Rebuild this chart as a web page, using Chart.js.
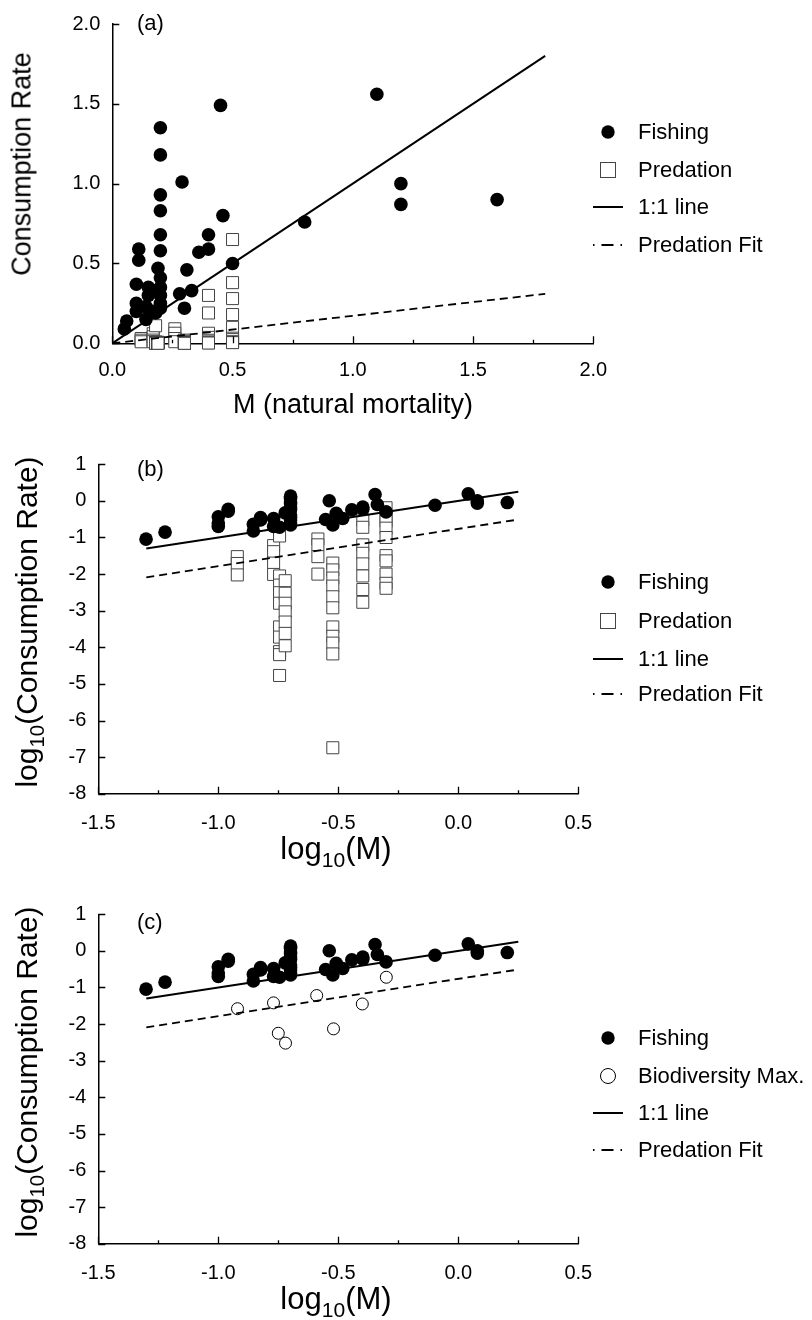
<!DOCTYPE html>
<html lang="en">
<head>
<meta charset="utf-8">
<title>Consumption rate vs natural mortality</title>
<script src="https://cdn.jsdelivr.net/npm/chart.js@4.4.1/dist/chart.umd.min.js"></script>
<style>
  html, body { margin: 0; padding: 0; background: #fff; }
  #fig { position: relative; width: 812px; height: 1320px; overflow: hidden;
         font-family: "Liberation Sans", Arial, sans-serif; color: #000; }
  #fig canvas { position: absolute; left: 0; }
  .txt { position: absolute; white-space: nowrap; line-height: 1; }
  .ytitle { transform: translate(-50%, -50%) rotate(-90deg); }
  .xtitle { transform: translate(-50%, -50%); }
  .tag { transform: translateY(-50%); font-size: 22px; }
  .sub { position: relative; top: 0.36em; font-size: 0.68em; }
  .leg { transform: translateY(-50%); }
  .mk { position: absolute; }
</style>
</head>
<body>
<div id="fig">
  <canvas id="chartA" width="812" height="420" style="top:0;width:812px;height:420px"></canvas>
  <canvas id="chartB" width="812" height="440" style="top:430px;width:812px;height:440px"></canvas>
  <canvas id="chartC" width="812" height="440" style="top:880px;width:812px;height:440px"></canvas>

  <div class="txt ytitle" style="left:22px;top:164px;font-size:27px">Consumption Rate</div>
  <div class="txt xtitle" style="left:353px;top:404px;font-size:27px">M (natural mortality)</div>
  <div class="txt tag" style="left:137px;top:23px">(a)</div>

  <div class="txt ytitle" style="left:27px;top:622px;font-size:30px">log<span class="sub">10</span>(Consumption Rate)</div>
  <div class="txt xtitle" style="left:336px;top:848px;font-size:31px">log<span class="sub">10</span>(M)</div>
  <div class="txt tag" style="left:137px;top:469px">(b)</div>

  <div class="txt ytitle" style="left:27px;top:1072px;font-size:30px">log<span class="sub">10</span>(Consumption Rate)</div>
  <div class="txt xtitle" style="left:336px;top:1298px;font-size:31px">log<span class="sub">10</span>(M)</div>
  <div class="txt tag" style="left:137px;top:922px">(c)</div>
</div>

<script>
// fishing: natural mortality M and consumption rate
const fishM = [0.05, 0.06, 0.10, 0.10, 0.10, 0.11, 0.11, 0.14, 0.14, 0.15, 0.15, 0.17, 0.17, 0.18, 0.19,
               0.20, 0.20, 0.20, 0.20, 0.20, 0.20, 0.20, 0.20, 0.20, 0.20, 0.20,
               0.28, 0.29, 0.30, 0.31, 0.33, 0.36, 0.40, 0.40, 0.45, 0.46, 0.50, 0.80, 1.10, 1.20, 1.20, 1.60];
const fishC = [0.09, 0.14, 0.37, 0.25, 0.20, 0.59, 0.52, 0.15, 0.23, 0.35, 0.30, 0.20, 0.33, 0.19, 0.47,
               1.35, 1.18, 0.93, 0.83, 0.68, 0.58, 0.41, 0.35, 0.30, 0.25, 0.22,
               0.31, 1.01, 0.22, 0.46, 0.33, 0.57, 0.59, 0.68, 1.49, 0.80, 0.50, 0.76, 1.56, 1.00, 0.87, 0.90];

// predation estimates
const predM = [0.12, 0.12, 0.12,
               0.17, 0.17, 0.17, 0.17,
               0.18, 0.18, 0.18, 0.18, 0.18, 0.18, 0.18, 0.18, 0.18, 0.18,
               0.19, 0.19, 0.19, 0.19, 0.19, 0.19, 0.19,
               0.26, 0.26, 0.26, 0.26,
               0.30, 0.30, 0.30, 0.30, 0.30, 0.30, 0.30, 0.30, 0.30, 0.30, 0.30,
               0.40, 0.40, 0.40, 0.40, 0.40, 0.40, 0.40, 0.40,
               0.50, 0.50, 0.50, 0.50, 0.50, 0.50, 0.50, 0.50, 0.50, 0.50];
const predC = [0.030, 0.0195, 0.0095,
               0.060, 0.041, 0.020, 0.0098,
               0.11, 0.0089, 0.0050, 0.0031, 0.0016, 0.00036, 0.00019, 0.000076, 0.000063, 0.000017,
               0.0066, 0.0030, 0.0016, 0.00093, 0.00049, 0.00024, 0.00011,
               0.091, 0.063, 0.030, 0.010,
               0.020, 0.013, 0.0078, 0.0047, 0.0024, 0.0012, 0.00036, 0.00020, 0.00013, 0.000066, 0.00000018,
               0.30, 0.19, 0.063, 0.037, 0.019, 0.0089, 0.0038, 0.0017,
               0.65, 0.38, 0.28, 0.18, 0.10, 0.032, 0.023, 0.010, 0.0056, 0.0041];

// biodiversity maximum (log10 units)
const bioLogM = [-0.92, -0.77, -0.75, -0.72, -0.59, -0.52, -0.40, -0.30];
const bioLogC = [-1.58, -1.42, -2.25, -2.52, -1.22, -2.13, -1.45, -0.72];

// reference lines
const lineM = [0, 1.8];
const oneC = [0, 1.8];
const fitC = [0, 0.31];
const logLineM = [-1.30, 0.25];
const logOneC = [-1.30, 0.25];
const logFitC = [-2.09, -0.51];

// axis ticks
const linTicks = { min: 0, max: 2, step: 0.5 };
const logXTicks = { min: -1.5, max: 0.5, step: 0.5 };
const logYTicks = { min: -8, max: 1, step: 1 };

const FONT = '"Liberation Sans", Arial, sans-serif';
const pts = (xs, ys) => xs.map((v, i) => ({ x: v, y: ys[i] }));
const lg = arr => arr.map(v => Math.log10(v));
const fmt1 = v => (Math.abs(v) < 1e-9 ? 0 : v).toFixed(1);
const fmt0 = v => String(Math.round(v));

// tick marks point into the plot; minor marks halfway on x
const innerTicks = {
  id: 'innerTicks',
  afterDraw(chart) {
    const { ctx, chartArea: a, scales: { x, y } } = chart;
    ctx.save();
    ctx.strokeStyle = '#000';
    ctx.lineWidth = 1.3;
    ctx.beginPath();
    const xv = x.ticks.map(t => t.value);
    xv.forEach((v, i) => {
      const px = Math.round(x.getPixelForValue(v)) + 0.5;
      ctx.moveTo(px, a.bottom);
      ctx.lineTo(px, a.bottom - 7);
      if (i < xv.length - 1) {
        const mx = Math.round(x.getPixelForValue((v + xv[i + 1]) / 2)) + 0.5;
        ctx.moveTo(mx, a.bottom);
        ctx.lineTo(mx, a.bottom - 3.5);
      }
    });
    y.ticks.forEach(t => {
      const py = Math.round(y.getPixelForValue(t.value)) + 0.5;
      ctx.moveTo(a.left, py);
      ctx.lineTo(a.left + 7, py);
    });
    ctx.stroke();
    ctx.restore();
  }
};

function axis(t, fmt, pad, fit) {
  return {
    type: 'linear', min: t.min, max: t.max,
    grid: { display: false, drawTicks: false },
    border: { display: true, color: '#000', width: 1.5 },
    ticks: { stepSize: t.step, padding: pad, color: '#000', autoSkip: false, maxRotation: 0,
             font: { family: FONT, size: 20 }, callback: fmt },
    afterFit: fit
  };
}

function makePanel(id, area, xt, yt, xfmt, yfmt, xpad, datasets) {
  const h = document.getElementById(id).height;
  return new Chart(document.getElementById(id), {
    type: 'scatter',
    data: { datasets },
    options: {
      responsive: false, animation: false, devicePixelRatio: 1, events: [],
      layout: { padding: { left: 0, top: area.top, right: 812 - area.right, bottom: h - area.bottom - 50 } },
      plugins: { legend: { display: false }, tooltip: { enabled: false } },
      scales: {
        x: Object.assign(axis(xt, xfmt, xpad, s => { s.height = 50; }), { position: 'bottom' }),
        y: Object.assign(axis(yt, yfmt, 12, s => { s.width = area.left; }), { position: 'left' })
      }
    },
    plugins: [innerTicks]
  });
}

const lineSet = (label, d, dash) => ({
  label, data: d, showLine: true, borderColor: '#000', borderWidth: dash ? 1.8 : 2,
  borderDash: dash ? [8, 5] : [], pointRadius: 0, order: 0
});
const fishSet = d => ({
  label: 'Fishing', data: d, pointStyle: 'circle', pointRadius: 6.8,
  backgroundColor: '#000', borderColor: '#000', borderWidth: 0, order: 1, clip: false
});
const predSet = d => ({
  label: 'Predation', data: d, pointStyle: 'rect', pointRadius: 8.5,
  backgroundColor: '#fff', borderColor: '#444', borderWidth: 1, order: 2, clip: false
});

makePanel('chartA', { left: 112.3, top: 15, right: 593.3, bottom: 343.3 },
  linTicks, linTicks, fmt1, fmt1, 15, [
    lineSet('1:1 line', pts(lineM, oneC), false),
    lineSet('Predation Fit', pts(lineM, fitC), true),
    fishSet(pts(fishM, fishC)),
    predSet(pts(predM, predC))
  ]);

makePanel('chartB', { left: 98.3, top: 34.3, right: 578.3, bottom: 363.7 },
  logXTicks, logYTicks, fmt1, fmt0, 18, [
    lineSet('1:1 line', pts(logLineM, logOneC), false),
    lineSet('Predation Fit', pts(logLineM, logFitC), true),
    fishSet(pts(lg(fishM), lg(fishC))),
    predSet(pts(lg(predM), lg(predC)))
  ]);

makePanel('chartC', { left: 98.3, top: 34.3, right: 578.3, bottom: 363.7 },
  logXTicks, logYTicks, fmt1, fmt0, 18, [
    lineSet('1:1 line', pts(logLineM, logOneC), false),
    lineSet('Predation Fit', pts(logLineM, logFitC), true),
    fishSet(pts(lg(fishM), lg(fishC))),
    { label: 'Biodiversity Max.', data: pts(bioLogM, bioLogC), pointStyle: 'circle', pointRadius: 6,
      backgroundColor: '#fff', borderColor: '#000', borderWidth: 1, order: 2, clip: false }
  ]);

// legends
const MARKS = {
  dot: '<circle cx="20" cy="10" r="6.7" fill="#000"/>',
  square: '<rect x="12.5" y="2.5" width="15" height="15" fill="#fff" stroke="#444" stroke-width="1"/>',
  ring: '<circle cx="20" cy="10" r="7.5" fill="#fff" stroke="#000" stroke-width="1"/>',
  solid: '<line x1="5" y1="10" x2="35" y2="10" stroke="#000" stroke-width="2"/>',
  dash: '<line x1="5" y1="10" x2="35" y2="10" stroke="#000" stroke-width="2" stroke-dasharray="1.5 7 12 7 1.5"/>'
};

function addLegend(entries, markX, textX, rowsY, size) {
  const fig = document.getElementById('fig');
  entries.forEach(([mark, text], i) => {
    const svg = document.createElementNS('http://www.w3.org/2000/svg', 'svg');
    svg.setAttribute('class', 'mk');
    svg.setAttribute('width', '40');
    svg.setAttribute('height', '20');
    svg.style.left = (markX - 20) + 'px';
    svg.style.top = (rowsY[i] - 10) + 'px';
    svg.innerHTML = MARKS[mark];
    fig.appendChild(svg);
    const t = document.createElement('div');
    t.className = 'txt leg';
    t.style.left = textX + 'px';
    t.style.top = rowsY[i] + 'px';
    t.style.fontSize = size + 'px';
    t.textContent = text;
    fig.appendChild(t);
  });
}

addLegend([['dot', 'Fishing'], ['square', 'Predation'], ['solid', '1:1 line'], ['dash', 'Predation Fit']],
  608, 638, [132, 170, 207, 245], 22);
addLegend([['dot', 'Fishing'], ['square', 'Predation'], ['solid', '1:1 line'], ['dash', 'Predation Fit']],
  608, 638, [582, 621, 659, 694], 22);
addLegend([['dot', 'Fishing'], ['ring', 'Biodiversity Max.'], ['solid', '1:1 line'], ['dash', 'Predation Fit']],
  608, 638, [1038, 1076, 1113, 1150], 22);
</script>
</body>
</html>
